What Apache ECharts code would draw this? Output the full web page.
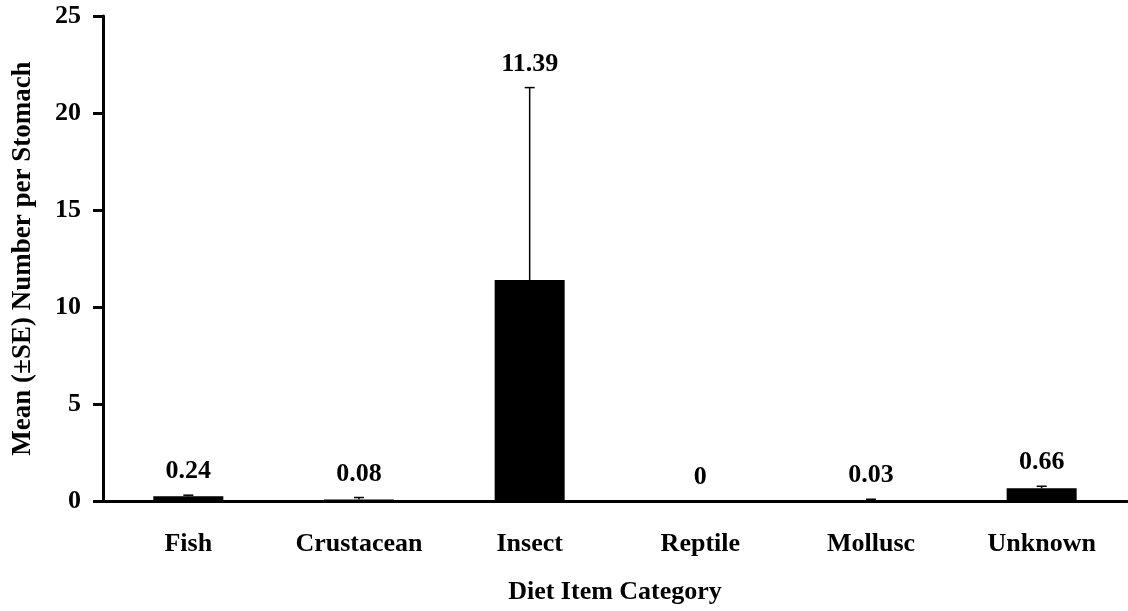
<!DOCTYPE html>
<html>
<head>
<meta charset="utf-8">
<script src="https://cdn.jsdelivr.net/npm/echarts@6/dist/echarts.min.js"></script>
<style>
  html, body { margin: 0; padding: 0; background: #fff; }
  #chart { width: 1128px; height: 611px; }
</style>
</head>
<body>
<div id="chart"></div>
<script>
// Diet composition: mean number of items per stomach with standard errors
const categories = ['Fish', 'Crustacean', 'Insect', 'Reptile', 'Mollusc', 'Unknown'];
const meanValues = [0.24, 0.08, 11.39, 0, 0.03, 0.66];
const seValues = [0.06, 0.1, 9.92, 0, 0.06, 0.1];
const yTicks = { min: 0, max: 25, interval: 5 };

const FONT = '"Liberation Serif", "Times New Roman", serif';
const textStyle = { fontFamily: FONT, fontWeight: 'bold', fontSize: 26, color: '#000' };

const chart = echarts.init(document.getElementById('chart'), null, { renderer: 'canvas' });

const errorData = categories.map((c, i) => [i, meanValues[i], seValues[i]]);

chart.setOption({
  animation: false,
  backgroundColor: '#fff',
  grid: { left: 103, right: 1, top: 16, bottom: 110 },
  xAxis: {
    type: 'category',
    data: categories,
    name: 'Diet Item Category',
    nameLocation: 'middle',
    nameGap: 78,
    nameTextStyle: textStyle,
    axisLine: { lineStyle: { color: '#000', width: 3 } },
    axisTick: { show: false },
    axisLabel: Object.assign({ margin: 30 }, textStyle),
    splitLine: { show: false }
  },
  yAxis: {
    type: 'value',
    min: yTicks.min,
    max: yTicks.max,
    interval: yTicks.interval,
    name: 'Mean (±SE) Number per Stomach',
    nameLocation: 'middle',
    nameGap: 66,
    nameTextStyle: Object.assign({}, textStyle, { fontSize: 27 }),
    axisLine: { show: true, lineStyle: { color: '#000', width: 3 } },
    axisTick: { show: true, length: 10, lineStyle: { color: '#000', width: 3 } },
    axisLabel: Object.assign({ margin: 22 }, textStyle),
    splitLine: { show: false }
  },
  series: [
    {
      type: 'bar',
      data: meanValues,
      barWidth: 70,
      itemStyle: { color: '#000' },
      z: 2
    },
    {
      type: 'custom',
      data: errorData,
      z: 3,
      renderItem: function (params, api) {
        const idx = api.value(0);
        const mean = api.value(1);
        const se = api.value(2);
        const base = api.coord([idx, mean]);
        const top = api.coord([idx, mean + se]);
        const half = 5;
        const children = [];
        if (se > 0) {
          children.push({
            type: 'line',
            shape: { x1: top[0], y1: base[1], x2: top[0], y2: top[1] },
            style: { stroke: '#000', lineWidth: 1.5 }
          });
          children.push({
            type: 'line',
            shape: { x1: top[0] - half, y1: top[1], x2: top[0] + half, y2: top[1] },
            style: { stroke: '#000', lineWidth: 1.5 }
          });
        }
        children.push({
          type: 'text',
          x: top[0],
          y: top[1] - 23.5,
          style: {
            text: String(meanValues[idx]),
            fontFamily: FONT,
            fontWeight: 'bold',
            fontSize: 26,
            fill: '#000',
            align: 'center',
            verticalAlign: 'middle'
          }
        });
        return { type: 'group', children: children };
      }
    }
  ]
});
</script>
</body>
</html>
